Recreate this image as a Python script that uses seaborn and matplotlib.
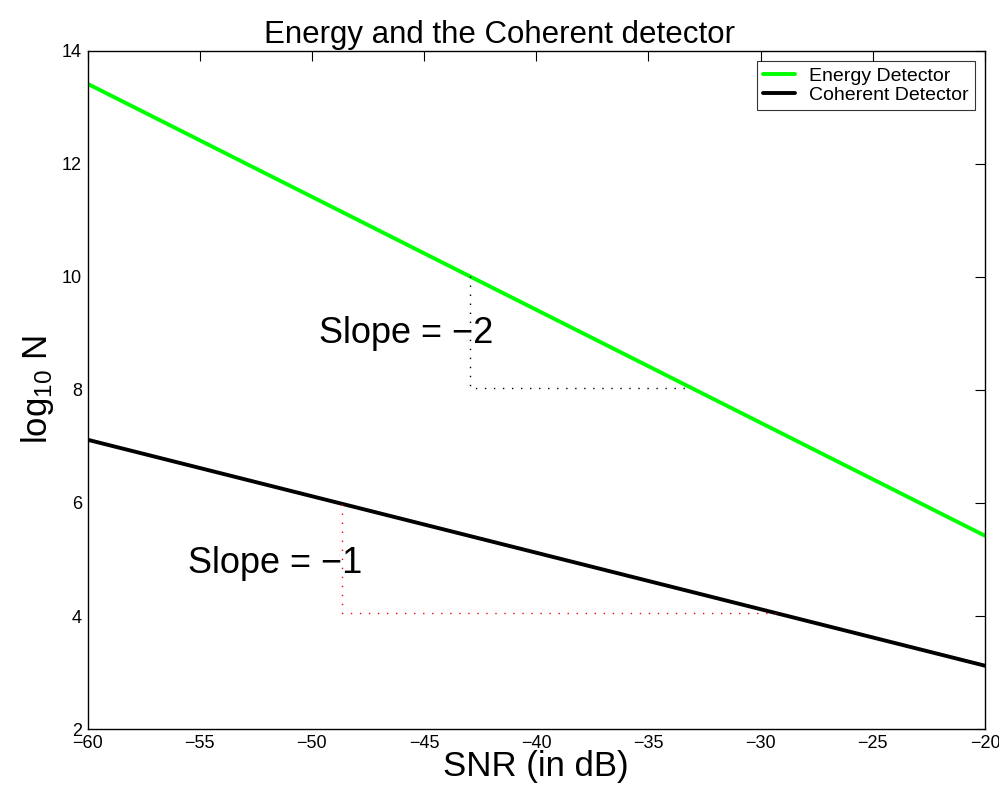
import numpy as np
import pandas as pd
import matplotlib
matplotlib.use("Agg")
import matplotlib.pyplot as plt
import seaborn as sns
from matplotlib.lines import Line2D

sns.set_style("white")
plt.rcParams['font.family'] = ['Liberation Sans', 'DejaVu Sans']
plt.rcParams['text.color'] = 'black'
plt.rcParams['axes.labelcolor'] = 'black'
plt.rcParams['xtick.color'] = 'black'
plt.rcParams['ytick.color'] = 'black'
plt.rcParams['mathtext.fontset'] = 'custom'
plt.rcParams['mathtext.rm'] = 'Liberation Sans'
plt.rcParams['mathtext.it'] = 'Liberation Sans'

# Data
snr_db = [-60, -20]
energy_log10N = [13.42, 5.42]
coherent_log10N = [7.12, 3.12]
series_names = ["Energy Detector", "Coherent Detector"]
series_colors = ["#00FF00", "#000000"]

# slope guides
energy_guide_x = [-42.95, -42.95, -33.1]
energy_guide_y = [10.01, 8.04, 8.04]
coherent_guide_x = [-48.65, -48.65, -29.3]
coherent_guide_y = [5.99, 4.05, 4.05]

x_ticks = [-60, -55, -50, -45, -40, -35, -30, -25, -20]
y_ticks = [2, 4, 6, 8, 10, 12, 14]

df = pd.DataFrame({
    "SNR": snr_db * 2,
    "log10N": energy_log10N + coherent_log10N,
    "series": [series_names[0]] * 2 + [series_names[1]] * 2,
})

fig = plt.figure(figsize=(9.99, 7.93), dpi=100)
ax = fig.add_axes([0.0876, 0.0807, 0.8984, 0.855])

sns.lineplot(data=df, x="SNR", y="log10N", hue="series",
             palette=dict(zip(series_names, series_colors)),
             linewidth=2.8, ax=ax, legend=False)

ax.plot(energy_guide_x, energy_guide_y, color="black", lw=1.0,
        linestyle=(0, (1, 5.5)))
ax.plot(coherent_guide_x, coherent_guide_y, color="red", lw=1.0,
        linestyle=(0, (1, 5.5)))

ax.text(-49.7, 8.83, "Slope = \u22122", fontsize=26, va="baseline", ha="left")
ax.text(-55.5, 4.76, "Slope = \u22121", fontsize=26, va="baseline", ha="left")

ax.set_xlim(-60, -20)
ax.set_ylim(2, 14)
ax.set_xticks(x_ticks)
ax.set_yticks(y_ticks)
ax.set_xticklabels([str(v).replace("-", "\u2212") for v in x_ticks])
ax.tick_params(direction="in", length=7, width=0.8, top=True, right=True,
               labelsize=13, colors="black", pad=4)
for s in ax.spines.values():
    s.set_visible(True)
    s.set_color("black")
    s.set_linewidth(1.0)

ax.set_xlabel("SNR (in dB)", fontsize=25, labelpad=-1)
ax.set_ylabel("log$_{10}$ N", fontsize=25, labelpad=4)
ax.set_title("Energy and the Coherent detector", fontsize=22.5, pad=6,
             color="black", x=0.459)

handles = [Line2D([], [], color=c, lw=2.8) for c in series_colors]
leg = ax.legend(handles, series_names, loc="upper right", fontsize=14,
                frameon=True, fancybox=False, edgecolor="black",
                borderaxespad=0.5, handlelength=1.65, handletextpad=0.72,
                labelspacing=0.1, borderpad=0.32)
leg.get_frame().set_linewidth(0.8)

fig.savefig("out.png", dpi=100)
